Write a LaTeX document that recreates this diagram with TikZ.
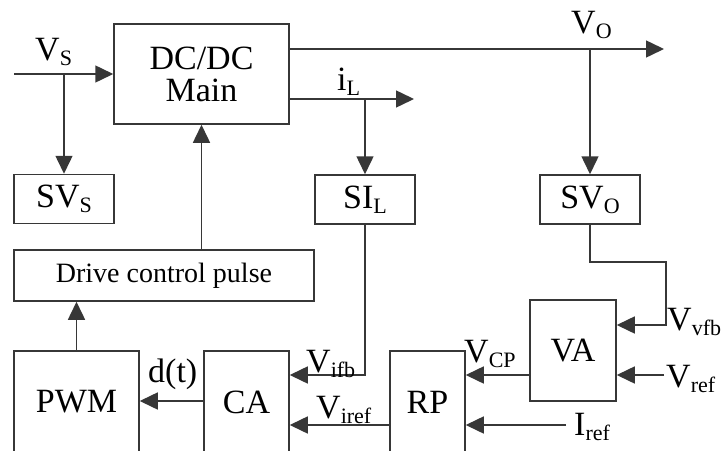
\documentclass[tikz,border=0pt]{standalone}
\usepackage{fontspec}
\setmainfont{Liberation Serif}
\usetikzlibrary{arrows.meta}
\definecolor{linegray}{RGB}{55,55,55}
\newcommand{\lsub}[1]{\raisebox{-5pt}{\fontsize{22}{22}\selectfont #1}}
\begin{document}
\begin{tikzpicture}[x=1pt,y=-1pt,
  box/.style={draw=linegray, line width=1.5pt, inner sep=0pt, font=\fontsize{34}{36}\selectfont},
  arr/.style={draw=linegray, line width=1.5pt, -{Triangle[length=18pt,width=17pt]}},
  lab/.style={inner sep=0pt, font=\fontsize{34}{36}\selectfont}]
\useasboundingbox (0,0) rectangle (728,450);
\clip (0,0) rectangle (728,450);
% boxes
\node[box, minimum width=175pt, minimum height=100pt, align=center] (main) at (201.5,74) {DC/DC\\[-4pt]Main};
\node[box, minimum width=100pt, minimum height=49pt] (svs) at (64,199) {SV\lsub{S}};
\node[box, minimum width=100pt, minimum height=49pt] (sil) at (365,199.5) {SI\lsub{L}};
\node[box, minimum width=100pt, minimum height=49pt] (svo) at (590,199.5) {SV\lsub{O}};
\node[box, minimum width=300pt, minimum height=51pt, font=\fontsize{28}{30}\selectfont] (drive) at (164,275.5) {Drive control pulse};
\node[box, minimum width=125pt, minimum height=102pt] (pwm) at (76.5,402) {PWM};
\node[box, minimum width=85pt, minimum height=102pt] (ca) at (246.5,402) {CA};
\node[box, minimum width=75pt, minimum height=102pt] (rp) at (427.5,402) {RP};
\node[box, minimum width=86pt, minimum height=101pt] (va) at (573,350.5) {VA};
% coordinates
\coordinate (vsin) at (14,74);
\coordinate (vsj) at (64,74);
\coordinate (voend) at (664,49);
\coordinate (voj) at (590,49);
\coordinate (ilend) at (414,99);
\coordinate (ilj) at (365,99);
\coordinate (ifbc) at (365,375);
\coordinate (ydt) at (0,401);
\coordinate (yiref) at (0,425);
\coordinate (irefin) at (566,425);
\coordinate (vrefin) at (664,375);
\coordinate (fb1) at (590,262);
\coordinate (fb2) at (666,262);
\coordinate (fb3) at (666,325);
% connectors
\draw[arr] (vsin) -- (main.west);
\draw[arr] (vsj) -- (svs.north);
\draw[arr] (main.east |- voend) -- (voend);
\draw[arr] (voj) -- (svo.north);
\draw[arr] (main.east |- ilend) -- (ilend);
\draw[arr] (ilj) -- (sil.north);
\draw[arr] (drive.north -| main.south) -- (main.south);
\draw[arr] (pwm.north) -- (drive.south -| pwm.north);
\draw[arr] (ca.west |- ydt) -- (pwm.east |- ydt);
\draw[arr] (sil.south) -- (ifbc) -- (ca.east |- ifbc);
\draw[arr] (rp.west |- yiref) -- (ca.east |- yiref);
\draw[arr] (va.west |- ifbc) -- (rp.east |- ifbc);
\draw[arr] (irefin) -- (rp.east |- irefin);
\draw[arr] (vrefin) -- (va.east |- vrefin);
\draw[arr] (svo.south) -- (fb1) -- (fb2) -- (fb3) -- (va.east |- fb3);
% labels
\node[lab, anchor=base west] (lvs) at (35,60) {V\lsub{S}};
\node[lab, anchor=base west] (lvo) at (571,33) {V\lsub{O}};
\node[lab, anchor=base west] (lil) at (337,90) {i\lsub{L}};
\node[lab, anchor=base west] (ldt) at (148,382) {d(t)};
\node[lab, anchor=base west] (lifb) at (306,372) {V\lsub{ifb}};
\node[lab, anchor=base west] (liref) at (316,418) {V\lsub{iref}};
\node[lab, anchor=base west] (lvcp) at (464,362) {V\lsub{CP}};
\node[lab, anchor=base west] (lvfb) at (667,330) {V\lsub{vfb}};
\node[lab, anchor=base west] (lvref) at (666,387) {V\lsub{ref}};
\node[lab, anchor=base west] (liref2) at (574,435) {I\lsub{ref}};
\end{tikzpicture}
\end{document}
